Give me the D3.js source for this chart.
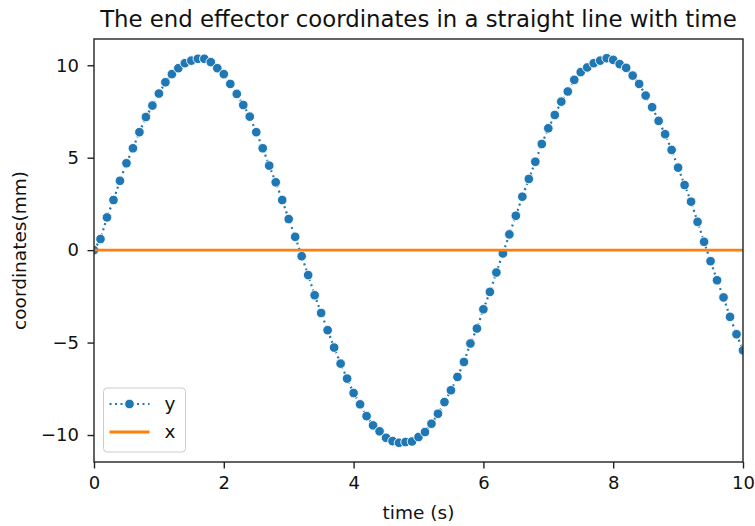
<!DOCTYPE html>
<html>
<head>
<meta charset="utf-8">
<script src="https://cdn.jsdelivr.net/npm/d3@7"></script>
<style>
  body { margin: 0; background: #fff; }
  svg { font-family: "DejaVu Sans", sans-serif; }
</style>
</head>
<body>
<div id="chart"></div>
<script>
// time samples (s)
const time = [
  0.0, 0.1, 0.2, 0.3, 0.4, 0.5, 0.6, 0.7, 0.8, 0.9,
  1.0, 1.1, 1.2, 1.3, 1.4, 1.5, 1.6, 1.7, 1.8, 1.9,
  2.0, 2.1, 2.2, 2.3, 2.4, 2.5, 2.6, 2.7, 2.8, 2.9,
  3.0, 3.1, 3.2, 3.3, 3.4, 3.5, 3.6, 3.7, 3.8, 3.9,
  4.0, 4.1, 4.2, 4.3, 4.4, 4.5, 4.6, 4.7, 4.8, 4.9,
  5.0, 5.1, 5.2, 5.3, 5.4, 5.5, 5.6, 5.7, 5.8, 5.9,
  6.0, 6.1, 6.2, 6.3, 6.4, 6.5, 6.6, 6.7, 6.8, 6.9,
  7.0, 7.1, 7.2, 7.3, 7.4, 7.5, 7.6, 7.7, 7.8, 7.9,
  8.0, 8.1, 8.2, 8.3, 8.4, 8.5, 8.6, 8.7, 8.8, 8.9,
  9.0, 9.1, 9.2, 9.3, 9.4, 9.5, 9.6, 9.7, 9.8, 9.9,
  10.0
];
// y coordinate (mm)
const yCoord = [
  0, 0.6, 1.77, 2.71, 3.75, 4.70, 5.51, 6.38, 7.20, 7.82,
  8.47, 9.08, 9.52, 9.84, 10.11, 10.25, 10.35, 10.35, 10.17, 9.84,
  9.52, 8.99, 8.45, 7.85, 7.22, 6.38, 5.51, 4.57, 3.67, 2.71,
  1.68, 0.72, -0.33, -1.35, -2.44, -3.40, -4.33, -5.27, -6.14, -6.95,
  -7.73, -8.34, -8.98, -9.48, -9.80, -10.15, -10.33, -10.42, -10.38, -10.35,
  -10.11, -9.84, -9.39, -8.85, -8.22, -7.58, -6.86, -6.05, -5.05, -4.24,
  -3.20, -2.26, -1.21, -0.18, 0.85, 1.86, 2.89, 3.85, 4.78, 5.74,
  6.59, 7.31, 8.03, 8.58, 9.21, 9.63, 9.88, 10.11, 10.25, 10.38,
  10.29, 10.06, 9.86, 9.44, 8.99, 8.36, 7.73, 6.99, 6.27, 5.42,
  4.46, 3.52, 2.62, 1.53, 0.45, -0.60, -1.63, -2.56, -3.61, -4.55,
  -5.42
];
// x coordinate (mm) stays at zero
const xTime = [0, 10];
const xCoord = [0, 0];

const xTicks = [0, 2, 4, 6, 8, 10];
const yTicks = [-10, -5, 0, 5, 10];
const titleText = "The end effector coordinates in a straight line with time";

const W = 755, H = 526;
const margin = {top: 39, right: 12, bottom: 64, left: 94};
const width = W - margin.left - margin.right,
      height = H - margin.top - margin.bottom;

const svg = d3.select("#chart").append("svg")
    .attr("width", W)
    .attr("height", H);

const g = svg.append("g")
    .attr("transform", "translate(" + margin.left + "," + margin.top + ")");

const x = d3.scaleLinear().domain([0, 10]).range([0, width]);

// matplotlib style 5% padding
const yMin = d3.min(yCoord), yMax = d3.max(yCoord);
const pad = (yMax - yMin) * 0.05;
const y = d3.scaleLinear().domain([yMin - pad, yMax + pad]).range([height, 0]);

g.append("clipPath").attr("id", "clip")
  .append("rect").attr("width", width).attr("height", height);

const plot = g.append("g").attr("clip-path", "url(#clip)");

const line = d3.line().x(d => x(d[0])).y(d => y(d[1]));
const yPts = time.map((t, i) => [t, yCoord[i]]);
const xPts = xTime.map((t, i) => [t, xCoord[i]]);

plot.append("path")
    .datum(yPts)
    .attr("d", line)
    .attr("fill", "none")
    .attr("stroke", "#1f77b4")
    .attr("stroke-width", 2.2)
    .attr("stroke-dasharray", "2,3.5");

plot.selectAll("circle.ypt")
  .data(yPts)
  .enter()
  .append("circle")
    .attr("class", "ypt")
    .attr("cx", d => x(d[0]))
    .attr("cy", d => y(d[1]))
    .attr("r", 4.8)
    .attr("fill", "#1f77b4")
    .attr("stroke", "#fff")
    .attr("stroke-width", 0.9);

plot.append("path")
    .datum(xPts)
    .attr("d", line)
    .attr("fill", "none")
    .attr("stroke", "#ff7f0e")
    .attr("stroke-width", 2.9);

// axes
const xAxis = g.append("g")
    .attr("transform", "translate(0," + height + ")")
    .call(d3.axisBottom(x).tickValues(xTicks).tickSize(6.5).tickPadding(8).tickFormat(d3.format("d")));
const yAxis = g.append("g")
    .call(d3.axisLeft(y).tickValues(yTicks).tickSize(6.5).tickPadding(8.5)
      .tickFormat(d => d < 0 ? "\u2212" + Math.abs(d) : d));

[xAxis, yAxis].forEach(a => {
  a.select(".domain").remove();
  a.selectAll("line").attr("stroke", "#222").attr("stroke-width", 1.4);
  a.selectAll("text").attr("fill", "#111").style("font-size", "18px")
   .style("font-family", "DejaVu Sans");
});

// spines
g.append("rect")
    .attr("x", 0).attr("y", 0)
    .attr("width", width).attr("height", height)
    .attr("fill", "none")
    .attr("stroke", "#222")
    .attr("stroke-width", 1.4);

// title and labels
svg.append("text")
    .attr("x", margin.left + width / 2)
    .attr("y", 27)
    .attr("text-anchor", "middle")
    .attr("fill", "#111")
    .style("font-size", "22.8px")
    .text(titleText);

svg.append("text")
    .attr("x", margin.left + width / 2)
    .attr("y", 519)
    .attr("text-anchor", "middle")
    .attr("fill", "#111")
    .style("font-size", "18.5px")
    .text("time (s)");

svg.append("text")
    .attr("transform", "translate(26," + (margin.top + height / 2) + ") rotate(-90)")
    .attr("text-anchor", "middle")
    .attr("fill", "#111")
    .style("font-size", "18.5px")
    .text("coordinates(mm)");

// legend
const leg = g.append("g").attr("transform", "translate(9.5," + (height - 74) + ")");
leg.append("rect")
    .attr("width", 82).attr("height", 64)
    .attr("rx", 3.5)
    .attr("fill", "#fff").attr("fill-opacity", 0.8)
    .attr("stroke", "#ccc");
leg.append("line")
    .attr("x1", 6).attr("x2", 46).attr("y1", 16).attr("y2", 16)
    .attr("stroke", "#1f77b4").attr("stroke-width", 2.2)
    .attr("stroke-dasharray", "2,3.5");
leg.append("circle")
    .attr("cx", 26).attr("cy", 16).attr("r", 4.8)
    .attr("fill", "#1f77b4").attr("stroke", "#fff").attr("stroke-width", 0.9);
leg.append("line")
    .attr("x1", 6).attr("x2", 46).attr("y1", 44).attr("y2", 44)
    .attr("stroke", "#ff7f0e").attr("stroke-width", 2.9);
leg.append("text").attr("x", 61).attr("y", 22).attr("fill", "#111").style("font-size", "18.5px").text("y");
leg.append("text").attr("x", 61).attr("y", 50).attr("fill", "#111").style("font-size", "18.5px").text("x");
</script>
</body>
</html>
